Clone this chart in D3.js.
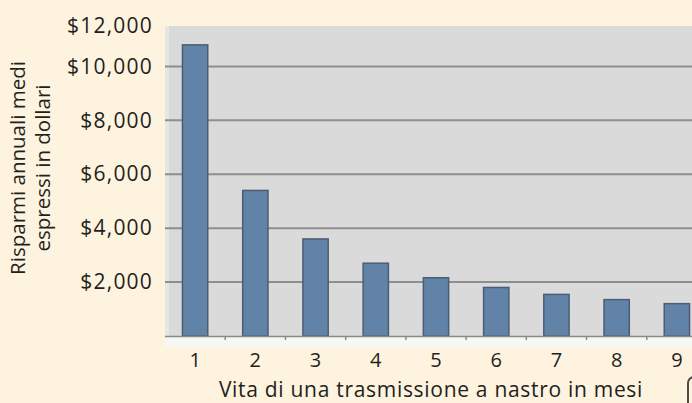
<!DOCTYPE html>
<html>
<head>
<meta charset="utf-8">
<script src="https://cdn.jsdelivr.net/npm/d3@7"></script>
<style>
  body { margin: 0; background: #fdf3df; }
  svg { display: block; }
  text { font-family: "Open Sans", sans-serif; fill: #231f20; }
</style>
</head>
<body>
<svg id="chart"></svg>
<script>
// data
var months = ["1", "2", "3", "4", "5", "6", "7", "8", "9"];
var savings = [10800, 5400, 3600, 2700, 2160, 1800, 1543, 1350, 1200];
var yTicks = [2000, 4000, 6000, 8000, 10000, 12000];

var width = 692, height = 403;
var plot = {left: 165, right: 707, top: 26, bottom: 336};

var svg = d3.select("#chart")
  .attr("width", width)
  .attr("height", height);

var x = d3.scaleBand()
  .domain(months)
  .range([plot.left, plot.right]);

var y = d3.scaleLinear()
  .domain([0, 11500])
  .range([plot.bottom, plot.top])
  .clamp(true);

// plot background
svg.append("rect")
  .attr("x", plot.left).attr("y", plot.top)
  .attr("width", width - plot.left).attr("height", plot.bottom - plot.top)
  .style("fill", "#dadada");
svg.append("rect")
  .attr("x", plot.left).attr("y", plot.top)
  .attr("width", 4).attr("height", plot.bottom - plot.top)
  .style("fill", "#e6e6e6");
// light strip under the axis
svg.append("rect")
  .attr("x", plot.left).attr("y", plot.bottom)
  .attr("width", width - plot.left).attr("height", 11)
  .style("fill", "#f7f7f3");

// gridlines
svg.selectAll(".grid")
  .data(yTicks.filter(function(d) { return d <= 11500; }))
  .enter().append("line")
  .attr("x1", plot.left).attr("x2", width)
  .attr("y1", function(d) { return y(d); })
  .attr("y2", function(d) { return y(d); })
  .style("stroke", "#8e8e8e")
  .style("stroke-width", 2);

// bars
var barW = x.bandwidth() * 0.42;
svg.selectAll(".bar")
  .data(savings)
  .enter().append("rect")
  .attr("x", function(d, i) { return x(months[i]) + x.bandwidth() / 2 - barW / 2; })
  .attr("y", function(d) { return y(d); })
  .attr("width", barW)
  .attr("height", function(d) { return plot.bottom - y(d); })
  .style("fill", "#6283a8")
  .style("stroke", "#4b5d73")
  .style("stroke-width", 1.5);

// x axis line and ticks between categories
svg.append("line")
  .attr("x1", plot.left).attr("x2", width)
  .attr("y1", plot.bottom + 0.5).attr("y2", plot.bottom + 0.5)
  .style("stroke", "#8a8a8a")
  .style("stroke-width", 1.5);
svg.selectAll(".xtick")
  .data(months.slice(1))
  .enter().append("line")
  .attr("x1", function(d) { return x(d); })
  .attr("x2", function(d) { return x(d); })
  .attr("y1", plot.bottom).attr("y2", plot.bottom + 4)
  .style("stroke", "#8a8a8a")
  .style("stroke-width", 1.5);

// x tick labels
var xAxis = svg.append("g")
  .attr("transform", "translate(0," + (plot.bottom + 11) + ")")
  .call(d3.axisBottom(x).tickSize(0).tickPadding(6));
xAxis.select(".domain").remove();
xAxis.selectAll("text")
  .style("font-size", "20px")
  .style("font-family", "'Open Sans', sans-serif")
  .style("fill", "#231f20");

// y tick labels
var yAxis = svg.append("g")
  .attr("transform", "translate(153,0)")
  .call(d3.axisLeft(y).tickValues(yTicks).tickSize(0).tickPadding(0)
    .tickFormat(function(d) { return "$" + d3.format(",")(d); }));
yAxis.select(".domain").remove();
yAxis.selectAll("text")
  .style("font-size", "21px")
  .style("letter-spacing", "1.2px")
  .style("font-family", "'Open Sans', sans-serif")
  .style("fill", "#231f20");

// axis titles
svg.append("text")
  .attr("x", 431).attr("y", 397)
  .style("text-anchor", "middle")
  .style("font-size", "21px")
  .style("letter-spacing", "0.7px")
  .text("Vita di una trasmissione a nastro in mesi");

var yTitle = svg.append("text")
  .attr("transform", "translate(25,168) rotate(-90)")
  .style("text-anchor", "middle")
  .style("font-size", "20.5px");
yTitle.append("tspan").attr("x", 0).attr("dy", 0).text("Risparmi annuali medi");
yTitle.append("tspan").attr("x", 0).attr("dy", 25).text("espressi in dollari");

// corner mark at bottom right
svg.append("rect")
  .attr("x", 688).attr("y", 377)
  .attr("width", 20).attr("height", 40)
  .attr("rx", 6)
  .style("fill", "#fdf3df")
  .style("stroke", "#4a4a4a")
  .style("stroke-width", 2);
</script>
</body>
</html>
